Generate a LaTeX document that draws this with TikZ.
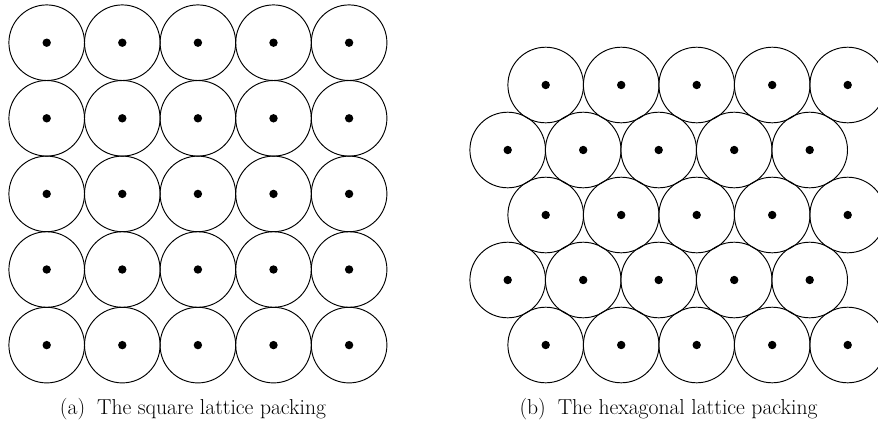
\documentclass[tikz,border=0pt]{standalone}
\begin{document}
\begin{tikzpicture}[x=1pt,y=-1pt,
  ring/.style={draw=black,line width=0.95pt},
  centre/.style={fill=black},
  caption/.style={anchor=base,inner sep=0pt,font=\fontsize{21.6}{26}\selectfont}]
\useasboundingbox (0,0) rectangle (878,424);
\clip (0,0) rectangle (878,424);
% square lattice
\foreach \i in {0,...,4}{
  \foreach \j in {0,...,4}{
    \draw[ring] ({46.7+75.6*\i},{42.7+75.6*\j}) circle (37.8);
    \fill[centre] ({46.7+75.6*\i},{42.7+75.6*\j}) circle (4.2);
  }
}
% hexagonal lattice
\foreach \j/\xo in {0/545.7,1/507.7,2/545.7,3/507.7,4/545.7}{
  \foreach \i in {0,...,4}{
    \draw[ring] ({\xo+75.5*\i},{85+65*\j}) circle (37.8);
    \fill[centre] ({\xo+75.5*\i},{85+65*\j}) circle (4.2);
  }
}
\node[caption] (capa) at (193,414) {(a)\hspace{0.55em}The square lattice packing};
\node[caption] (capb) at (668.5,414) {(b)\hspace{0.55em}The hexagonal lattice packing};
\end{tikzpicture}
\end{document}
